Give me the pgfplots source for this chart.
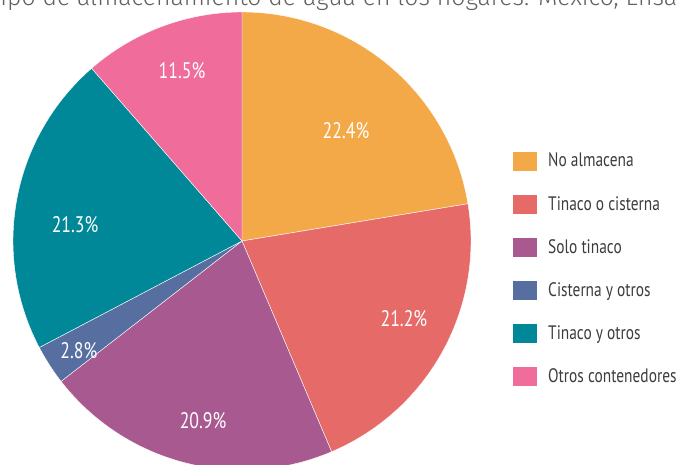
\documentclass[border=0pt]{standalone}
\usepackage{pgfplots}
\pgfplotsset{compat=1.18}
\usepackage{fontspec}
\setmainfont{PT Sans}
\newfontfamily\condfont[FakeStretch=0.79]{PT Sans}
\newfontfamily\titlefont{Fira Sans Light}
\definecolor{cA}{RGB}{244,169,73}
\definecolor{cB}{RGB}{230,106,103}
\definecolor{cC}{RGB}{168,89,143}
\definecolor{cD}{RGB}{86,110,160}
\definecolor{cE}{RGB}{0,135,152}
\definecolor{cF}{RGB}{240,108,155}
\definecolor{txt}{RGB}{60,60,60}
\tikzset{lbl/.style={font=\condfont\fontsize{22.5}{26}\selectfont, text=white, inner sep=0pt}}
\begin{document}
\begin{tikzpicture}
\path[use as bounding box] (0pt,0pt) rectangle (677pt,465pt);
\clip (0pt,0pt) rectangle (677pt,465pt);
\node[anchor=base west, inner sep=0pt, text=black!62, font=\titlefont\fontsize{24.75}{28}\selectfont] at (-12pt,459pt) {Tipo de almacenamiento de agua en los hogares. México, Ensanut 2018};
\begin{axis}[at={(242pt,224pt)}, anchor=center, scale only axis, width=458pt, height=458pt,
  xmin=-1, xmax=1, ymin=-1, ymax=1, hide axis, clip=false]
% values (%): 22.4, 21.2, 20.9, 2.8, 21.3, 11.5 ; angles clockwise from 90 deg
\addplot[fill=cA, draw=white, line width=0.4pt, domain=9.36:90, samples=120, variable=\t] ({cos(\t)},{sin(\t)}) -- (axis cs:0,0) -- cycle;
\addplot[fill=cB, draw=white, line width=0.4pt, domain=-66.96:9.36, samples=120, variable=\t] ({cos(\t)},{sin(\t)}) -- (axis cs:0,0) -- cycle;
\addplot[fill=cC, draw=white, line width=0.4pt, domain=-142.2:-66.96, samples=120, variable=\t] ({cos(\t)},{sin(\t)}) -- (axis cs:0,0) -- cycle;
\addplot[fill=cD, draw=white, line width=0.4pt, domain=-152.28:-142.2, samples=30, variable=\t] ({cos(\t)},{sin(\t)}) -- (axis cs:0,0) -- cycle;
\addplot[fill=cE, draw=white, line width=0.4pt, domain=-228.96:-152.28, samples=120, variable=\t] ({cos(\t)},{sin(\t)}) -- (axis cs:0,0) -- cycle;
\addplot[fill=cF, draw=white, line width=0.4pt, domain=-270:-228.96, samples=80, variable=\t] ({cos(\t)},{sin(\t)}) -- (axis cs:0,0) -- cycle;
\node[lbl] at (axis cs:0.454,0.480) {22.4\%};
\node[lbl] at (axis cs:0.707,-0.341) {21.2\%};
\node[lbl] at (axis cs:-0.170,-0.786) {20.9\%};
\node[lbl] at (axis cs:-0.712,-0.480) {2.8\%};
\node[lbl] at (axis cs:-0.729,0.070) {21.3\%};
\node[lbl] at (axis cs:-0.262,0.742) {11.5\%};
\end{axis}
\foreach \c/\n [count=\i from 0] in {cA/No almacena, cB/Tinaco o cisterna, cC/Solo tinaco, cD/Cisterna y otros, cE/Tinaco y otros, cF/Otros contenedores}{
  \pgfmathsetmacro{\yc}{465-161.5-43.1*\i}
  \fill[\c] (513pt,\yc pt-9.5pt) rectangle (537pt,\yc pt+9.5pt);
  \node[anchor=base west, inner sep=0pt, text=txt, font=\condfont\fontsize{19.5}{22}\selectfont] at (548pt,\yc pt-5.5pt) {\n};
}
\end{tikzpicture}
\end{document}
